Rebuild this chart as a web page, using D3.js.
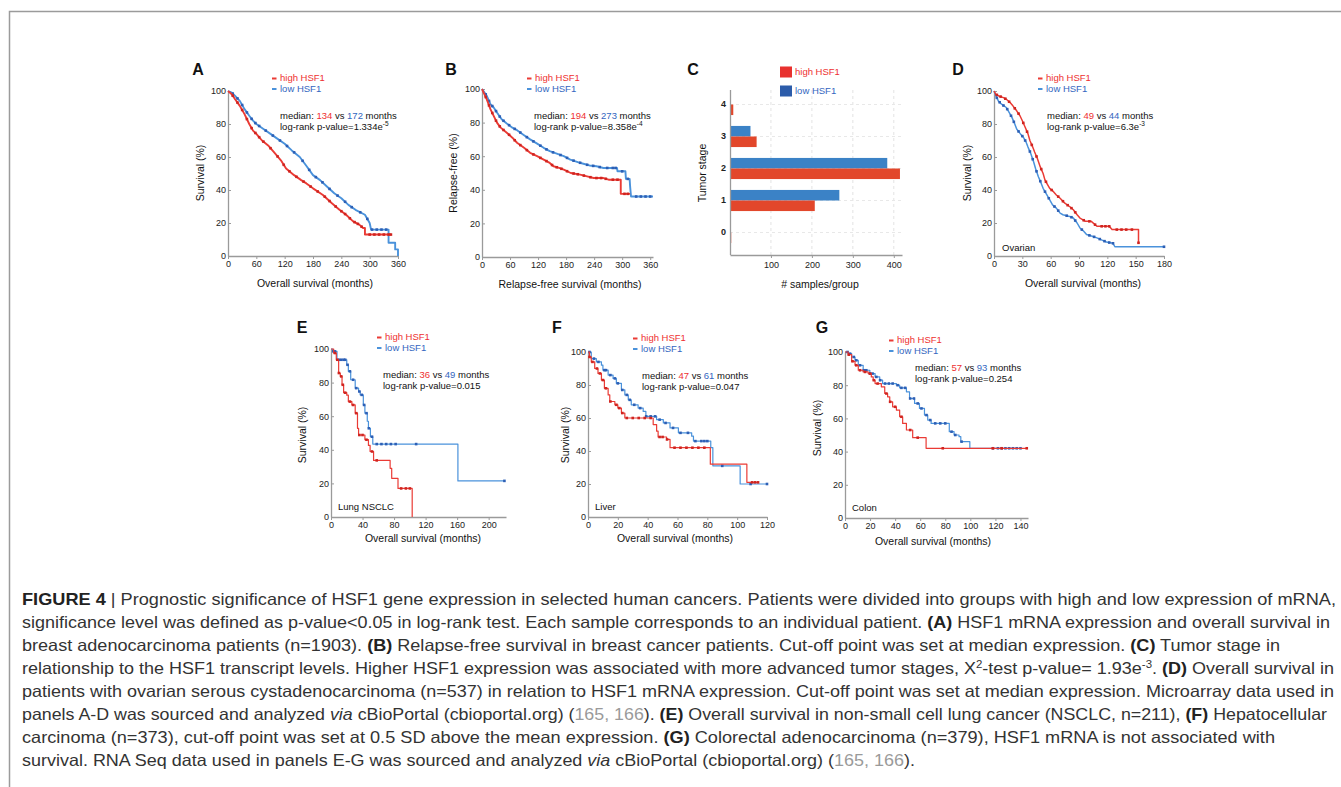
<!DOCTYPE html>
<html>
<head>
<meta charset="utf-8">
<script src="https://cdn.jsdelivr.net/npm/d3@7"></script>
<style>
  body { margin: 0; background: #fff; }
  svg text { font-family: "Liberation Sans", Arial, sans-serif; }
</style>
</head>
<body>
<svg id="fig" width="1341" height="787"></svg>
<script>
// ---- data ----
// A, B, D: curve traced as [months, survival %] points (dense KM curves)
const aHigh = [[0,100],[8,98],[15,95],[25,91],[35,86],[45,80],[53,76],[60,74],[72,70],[85,67],[100,62],[112,58],[123,53],[140,49],[155,46],[166,44],[180,41],[201,37],[220,32],[236,28],[250,25],[265,21],[278,19],[286,17],[290,17],[290,13],[345,13]]
const aLow = [[0,100],[8,99],[15,97],[25,94],[35,89],[45,85],[53,82],[60,80],[75,77],[90,74],[105,71],[120,68],[135,64],[152,60],[165,55],[180,49],[195,46],[210,42],[225,38],[240,35],[255,31],[270,28],[290,25],[300,20],[303,16],[340,16],[340,8],[354,8],[354,4],[360,4],[360,0]]
const aHighCens = [10,20,30,40,50,58,66,75,90,105,118,130,145,160,175,190,205,215,228,240,248,258,268,275,283,300,310,320,330,340,345]
const aLowCens = [10,20,30,40,50,58,66,80,95,110,125,140,158,172,186,200,215,232,248,262,280,295,305,315,325,335]

const bHigh = [[0,100],[5,97],[10,94],[18,88],[25,84],[32,80],[40,77],[53,74],[65,71],[75,68],[90,65],[103,62],[118,60],[132,58],[145,56],[153,54],[165,53],[175,52],[190,50],[210,49],[225,48],[239,47],[260,47],[271,46],[297,46],[297,37.6],[317,37.6]]
const bLow = [[0,100],[5,98],[10,96],[18,91],[25,89],[32,86],[42,82],[53,79.5],[65,77],[75,75.5],[90,72.5],[103,70],[118,67.5],[132,65],[145,63],[160,61.5],[175,60],[189,58],[205,56.5],[217,55.5],[230,54.5],[245,54],[260,53],[289,53],[290,51],[307,51],[308,46.5],[316,46.5],[317,42],[319,36],[366,36]]
const bHighCens = [8,15,22,30,38,46,58,70,82,96,110,125,138,150,160,170,182,196,205,218,232,245,255,265,280,290,305,312]
const bLowCens = [8,15,22,30,38,46,58,70,82,96,110,125,138,152,168,182,196,210,225,238,252,268,280,286,300,312,330,340,350,360]

const stages = ["4","3","2","1","0"]
const highStage = [8, 65, 415, 207, 3]
const lowStage = [1, 50, 384, 267, 1]

const dHigh = [[0,100],[2,98],[5,97],[10,96],[13,95],[17,93],[20,91],[24,88],[27.5,85],[30,82],[33,78],[36,74],[38,70],[41,66],[43,63],[46,59],[49,54],[52,50],[54,46],[57,43],[59,41],[63,39],[66,37],[70,35],[75,32],[80,30],[84,28],[88,25],[91,23],[97,21],[103,21],[109,18],[122,18],[125,16],[153,16],[153,8]]
const dLow = [[0,100],[2,97],[4.6,94],[8,92],[13,90],[16,87],[19,84],[22,80],[24,77],[28,74],[31,72],[34,69],[36,66],[39,62],[42,57],[44,53],[47,48],[50,44],[52,41],[56,37],[59,34],[62,31],[66,29],[70,26],[73,25],[80,24],[84,23],[88,20],[91,17],[95,15],[98,13],[104,12],[109,11],[115,9.5],[119,8.5],[126,7.7],[128,5.6],[180,5.6]]
const dHighCens = [3,7,12,16,22,26,31,35,40,45,50,55,61,68,73,78,82,86,95,101,107,114,118,122,130,135,140,146,153]
const dLowCens = [3,6,10,14,18,21,26,30,33,38,41,45,49,54,58,64,68,77,82,86,93,101,106,112,117,122,126,180]

// E, F, G: step points [month of drop, new survival %]
const eHigh = [[0,100],[3.4,97.6],[6.7,93.6],[9.7,85.7],[11.8,83.7],[14,78.7],[16,74],[20,72.5],[22,68.7],[26.5,66.7],[30.7,61.8],[33.6,52.8],[35,48.8],[43,46],[47.5,42.6],[49.6,39],[54,33.7],[75,29],[77,23],[85,17],[103,0]]
const eLow = [[0,100],[2,98.6],[7.6,93.6],[20,90.6],[22,86.7],[25,81.7],[30.7,76.7],[35,74.7],[37,72.7],[41,66.7],[43,61.8],[46,57],[47.5,52.8],[50,47.8],[53,43.4],[161,21.5],[220,21.5]]
const eHighCens = [5,8,10,13,15,18,24,28,32,36,40,45,52,58,89,95,100]
const eLowCens = [3,5,10,13,16,18,21,24,28,32,36,39,42,45,48,52,58,64,70,76,82,108,220]

const fHigh = [[0,100],[1,97],[2.2,94],[4.5,90],[6.7,87],[9,83],[11,78],[13.5,74],[14.6,70],[18,68],[20,66],[22.4,63],[24.7,60],[43.7,56],[46,52],[47,48.5],[52.7,47],[55,42],[82,32],[106.5,21],[114,21]]
const fLow = [[0,100],[2.2,96],[5.6,94],[9,92],[10,89],[13.5,86],[16.8,84],[19,81],[22.4,77],[24.7,74],[27,71],[29,68],[33.6,66],[37,64],[38.8,61],[46,59],[50.5,57],[55,54],[60.6,51],[69.5,49],[70.7,46],[82.3,42],[83.7,31],[102,20],[120,20]]
const fHighCens = [1,3,6,8,10,12,15,19,21,23,26,30,34,38,42,48,50,53,58,62,66,70,74,78,110,112,114]
const fLowCens = [1,4,7,11,12,15,18,20,23,26,28,31,35,39,42,45,48,52,57,62,67,72,76,78,80,90,109,120]

const gHigh = [[0,100],[2.6,98.4],[5.3,94.4],[8,92],[10.6,89],[14.5,88],[18.5,87],[21,85],[22.5,83],[24,81],[29,79],[31.7,75],[34,73],[35.7,70],[38,67],[41,65],[43.6,61],[46,57],[49,53],[54,48.4],[64.7,42],[145,42]]
const gLow = [[0,100],[2.6,99],[5.3,97],[8,95],[10.6,92],[14.5,89],[19.8,87],[24,85],[27.7,83],[30,81],[41,80],[43.6,78.4],[49,76],[51.5,72],[55.5,69],[59.4,66],[63.4,62],[66,59],[68.7,57],[83.2,52],[87,50],[91,49],[92.4,46],[99.6,42],[140,42]]
const gHighCens = [3,6,9,12,16,20,23,26,33,36,40,45,52,58,78,118,125,145]
const gLowCens = [2,4,7,9,12,15,17,20,22,25,28,32,35,38,42,45,48,52,55,58,61,65,68,72,76,80,85,88,93,118,122,125,128,131,134,137,140]

const survTicks = [0, 20, 40, 60, 80, 100]

// caption text, one array of pieces per line
const caption = [
  [{t:"FIGURE 4", b:1},{t:" | Prognostic significance of HSF1 gene expression in selected human cancers. Patients were divided into groups with high and low expression of mRNA,"}],
  [{t:"significance level was defined as p-value<0.05 in log-rank test. Each sample corresponds to an individual patient. "},{t:"(A)", b:1},{t:" HSF1 mRNA expression and overall survival in"}],
  [{t:"breast adenocarcinoma patients (n=1903). "},{t:"(B)", b:1},{t:" Relapse-free survival in breast cancer patients. Cut-off point was set at median expression. "},{t:"(C)", b:1},{t:" Tumor stage in"}],
  [{t:"relationship to the HSF1 transcript levels. Higher HSF1 expression was associated with more advanced tumor stages, X"},{t:"2", sup:1},{t:"-test p-value= 1.93e"},{t:"-3", sup:1},{t:". "},{t:"(D)", b:1},{t:" Overall survival in"}],
  [{t:"patients with ovarian serous cystadenocarcinoma (n=537) in relation to HSF1 mRNA expression. Cut-off point was set at median expression. Microarray data used in"}],
  [{t:"panels A-D was sourced and analyzed "},{t:"via", i:1},{t:" cBioPortal (cbioportal.org) ("},{t:"165, 166", g:1},{t:"). "},{t:"(E)", b:1},{t:" Overall survival in non-small cell lung cancer (NSCLC, n=211), "},{t:"(F)", b:1},{t:" Hepatocellular"}],
  [{t:"carcinoma (n=373), cut-off point was set at 0.5 SD above the mean expression. "},{t:"(G)", b:1},{t:" Colorectal adenocarcinoma (n=379), HSF1 mRNA is not associated with"}],
  [{t:"survival. RNA Seq data used in panels E-G was sourced and analyzed "},{t:"via", i:1},{t:" cBioPortal (cbioportal.org) ("},{t:"165, 166", g:1},{t:")."}]
]

// ---- styling / layout ----
const RED = "#ea3b35", BLUE = "#4a92db"
const RED_MK = "#d0241f", BLUE_MK = "#2d5fb5"
const RED_TXT = "#ee3030", BLUE_TXT = "#3366c0"

const svg = d3.select("#fig")
svg.append("rect").attr("width", 1341).attr("height", 787).attr("fill", "#fff")
svg.append("path").attr("d", "M9.5,787V11.5H1341")
  .attr("fill", "none").attr("stroke", "#9b9b9b").attr("stroke-width", 1.5)

const kmPanels = [
  {letter:"A", high:aHigh, low:aLow, highC:aHighCens, lowC:aLowCens, step:false, xMax:360, xTicks:[0,60,120,180,240,300,360],
   left:228, right:398, top:91, bottom:256, lw:1.9, yTitle:"Survival (%)", xTitle:"Overall survival (months)",
   med:["134","172"], p:["1.334e","-5"], letterAt:[198,69], legendAt:[272,78], statsAt:[280,116],
   xTitleAt:[315,283], yTitleAt:[200,173]},
  {letter:"B", high:bHigh, low:bLow, highC:bHighCens, lowC:bLowCens, step:false, xMax:366, xTicks:[0,60,120,180,240,300,360],
   left:482, right:653, top:89, bottom:257, lw:1.9, yTitle:"Relapse-free (%)", xTitle:"Relapse-free survival (months)",
   med:["194","273"], p:["8.358e","-4"], letterAt:[451,69], legendAt:[527,78], statsAt:[534,116],
   xTitleAt:[570,284], yTitleAt:[453,173]},
  {letter:"D", high:dHigh, low:dLow, highC:dHighCens, lowC:dLowCens, step:false, xMax:180, xTicks:[0,30,60,90,120,150,180],
   left:994, right:1164, top:91, bottom:256, lw:1.5, yTitle:"Survival (%)", xTitle:"Overall survival (months)",
   med:["49","44"], p:["6.3e","-3"], letterAt:[958,69], legendAt:[1038,78], statsAt:[1047,116],
   xTitleAt:[1083,283], yTitleAt:[967,173], note:"Ovarian", noteAt:[1002,248]},
  {letter:"E", high:eHigh, low:eLow, highC:eHighCens, lowC:eLowCens, step:true, xMax:222, xTicks:[0,40,80,120,160,200],
   left:331, right:506, top:349, bottom:517, lw:1.2, yTitle:"Survival (%)", xTitle:"Overall survival (months)",
   med:["36","49"], p:["0.015",""], letterAt:[302,327], legendAt:[377,337], statsAt:[383,375],
   xTitleAt:[423,538], yTitleAt:[302,435], note:"Lung NSCLC", noteAt:[338,507]},
  {letter:"F", high:fHigh, low:fLow, highC:fHighCens, lowC:fLowCens, step:true, xMax:120, xTicks:[0,20,40,60,80,100,120],
   left:588, right:767, top:352, bottom:517, lw:1.2, yTitle:"Survival (%)", xTitle:"Overall survival (months)",
   med:["47","61"], p:["0.047",""], letterAt:[557,327], legendAt:[633,338], statsAt:[642,376],
   xTitleAt:[675,538], yTitleAt:[565,435], note:"Liver", noteAt:[595,507]},
  {letter:"G", high:gHigh, low:gLow, highC:gHighCens, lowC:gLowCens, step:true, xMax:146, xTicks:[0,20,40,60,80,100,120,140],
   left:845, right:1028, top:352, bottom:518, lw:1.2, yTitle:"Survival (%)", xTitle:"Overall survival (months)",
   med:["57","93"], p:["0.254",""], letterAt:[822,327], legendAt:[889,340], statsAt:[915,368],
   xTitleAt:[933,541], yTitleAt:[817,428], note:"Colon", noteAt:[852,508]}
]

// height of the drawn curve at month t (step or traced polyline)
function curveAt(series, t, step) {
  if (step) {
    let s = series[0][1]
    for (const d of series) if (d[0] <= t) s = d[1]
    return s
  }
  for (let i = series.length - 1; i > 0; i--) {
    const a = series[i - 1], b = series[i]
    if (t >= a[0] && t <= b[0]) {
      if (b[0] === a[0]) return b[1]
      return a[1] + (b[1] - a[1]) * (t - a[0]) / (b[0] - a[0])
    }
  }
  return series[series.length - 1][1]
}

function styleAxis(g) {
  g.select(".domain").attr("stroke", "#9a9a9a").attr("stroke-width", 1.3)
  g.selectAll(".tick line").attr("stroke", "#9a9a9a")
  g.selectAll(".tick text").attr("fill", "#222").style("font-size", "9px")
}

function legend(g, at, fs) {
  const items = [["high HSF1", RED, RED_TXT], ["low HSF1", BLUE, BLUE_TXT]]
  items.forEach((it, i) => {
    const yy = at[1] + i * 10.5
    g.append("line").attr("x1", at[0]).attr("x2", at[0] + 4.5)
      .attr("y1", yy + 0.5).attr("y2", yy + 0.5)
      .attr("stroke", it[1]).attr("stroke-width", 2)
    g.append("text").attr("x", at[0] + 8).attr("y", yy).attr("dy", "0.35em")
      .style("font-size", fs + "px").attr("fill", it[2]).text(it[0])
  })
}

function letter(g, at, s) {
  g.append("text").attr("x", at[0]).attr("y", at[1]).attr("dy", "0.36em")
    .attr("text-anchor", "middle").style("font-size", "16px").style("font-weight", "bold")
    .attr("fill", "#111").text(s)
}

function drawKM(p) {
  const g = svg.append("g")
  const x = d3.scaleLinear().domain([0, p.xMax]).range([p.left, p.right])
  const y = d3.scaleLinear().domain([0, 100]).range([p.bottom, p.top])

  g.append("g").attr("transform", `translate(0,${p.bottom})`)
    .call(d3.axisBottom(x).tickValues(p.xTicks).tickSize(3).tickSizeOuter(0).tickPadding(2))
    .call(styleAxis)
  g.append("g").attr("transform", `translate(${p.left},0)`)
    .call(d3.axisLeft(y).tickValues(survTicks).tickSize(-3).tickSizeOuter(0).tickPadding(2))
    .call(styleAxis)

  const line = d3.line().x(d => x(d[0])).y(d => y(d[1]))
    .curve(p.step ? d3.curveStepAfter : d3.curveLinear)
  const series = [[p.low, p.lowC, BLUE, BLUE_MK], [p.high, p.highC, RED, RED_MK]]
  series.forEach(([data, cens, col, mk]) => {
    g.append("path").attr("d", line(data)).attr("fill", "none")
      .attr("stroke", col).attr("stroke-width", p.lw).attr("stroke-linejoin", "round")
    g.append("g").selectAll("rect").data(cens).join("rect")
      .attr("x", d => x(d) - 1.3).attr("y", d => y(curveAt(data, d, p.step)) - 1.3)
      .attr("width", 2.6).attr("height", 2.6).attr("fill", mk)
  })

  letter(g, p.letterAt, p.letter)
  legend(g, p.legendAt, 9.5)

  const st = g.append("text").attr("x", p.statsAt[0]).attr("y", p.statsAt[1]).attr("dy", "0.35em")
    .style("font-size", "9.5px").attr("fill", "#111")
  st.append("tspan").text("median: ")
  st.append("tspan").attr("fill", RED_TXT).text(p.med[0])
  st.append("tspan").text(" vs ")
  st.append("tspan").attr("fill", BLUE_TXT).text(p.med[1])
  st.append("tspan").text(" months")
  const pt = g.append("text").attr("x", p.statsAt[0]).attr("y", p.statsAt[1] + 10.5).attr("dy", "0.35em")
    .style("font-size", "9.5px").attr("fill", "#111")
  pt.append("tspan").text("log-rank p-value=" + p.p[0])
  if (p.p[1]) pt.append("tspan").attr("dy", -3.5).style("font-size", "6.5px").text(p.p[1])

  g.append("text").attr("x", p.xTitleAt[0]).attr("y", p.xTitleAt[1]).attr("dy", "0.35em")
    .attr("text-anchor", "middle").style("font-size", "10.5px").attr("fill", "#111").text(p.xTitle)
  g.append("text").attr("transform", `translate(${p.yTitleAt[0]},${p.yTitleAt[1]}) rotate(-90)`)
    .attr("dy", "0.35em").attr("text-anchor", "middle").style("font-size", "10.5px")
    .attr("fill", "#111").text(p.yTitle)
  if (p.note) {
    g.append("text").attr("x", p.noteAt[0]).attr("y", p.noteAt[1]).attr("dy", "0.35em")
      .style("font-size", "9.5px").attr("fill", "#111").text(p.note)
  }
}

kmPanels.forEach(drawKM)

// ---- panel C: tumour stage bars ----
function drawStages() {
  const g = svg.append("g")
  const x = d3.scaleLinear().domain([0, 420]).range([730, 902])
  const yb = d3.scaleBand().domain(stages).range([88.5, 248.5]).paddingInner(0.34).paddingOuter(0.17)
  const ys = d3.scaleBand().domain(["low", "high"]).range([0, yb.bandwidth()])

  // dashed grid
  g.append("g").selectAll("line").data([100, 200, 300, 400]).join("line")
    .attr("x1", d => x(d)).attr("x2", d => x(d)).attr("y1", 90).attr("y2", 255)
    .attr("stroke", "#e3e3e3").attr("stroke-dasharray", "3,3")
  g.append("g").selectAll("line").data(stages).join("line")
    .attr("x1", 730).attr("x2", 902)
    .attr("y1", d => yb(d) + yb.bandwidth() / 2).attr("y2", d => yb(d) + yb.bandwidth() / 2)
    .attr("stroke", "#e8e8e8").attr("stroke-dasharray", "3,3")

  const rows = stages.map((s, i) => ({ s, low: lowStage[i], high: highStage[i] }))
  g.append("g").selectAll("rect").data(rows).join("rect")
    .attr("x", x(0)).attr("y", d => yb(d.s) + ys("low"))
    .attr("width", d => x(d.low) - x(0)).attr("height", ys.bandwidth())
    .attr("fill", "#3b82c6")
  g.append("g").selectAll("rect").data(rows).join("rect")
    .attr("x", x(0)).attr("y", d => yb(d.s) + ys("high"))
    .attr("width", d => x(d.high) - x(0)).attr("height", ys.bandwidth())
    .attr("fill", "#e2472b")

  g.append("g").attr("transform", "translate(0,255)")
    .call(d3.axisBottom(x).tickValues([100, 200, 300, 400]).tickSize(3).tickSizeOuter(0).tickPadding(4))
    .call(styleAxis)
  g.append("g").attr("transform", "translate(730,0)")
    .call(d3.axisLeft(yb).tickSize(0).tickPadding(4))
    .call(styleAxis)
    .call(a => a.select(".domain").attr("d", "M0.5,90V255"))
    .call(a => a.selectAll(".tick text").style("font-size", "9px").style("font-weight", "bold")
      .style("font-family", "'Liberation Sans Narrow','Liberation Sans',sans-serif"))

  letter(g, [693, 69], "C")
  const leg = [["high HSF1", "#e8312f", RED_TXT], ["low HSF1", "#2c5caa", BLUE_TXT]]
  leg.forEach((it, i) => {
    const yy = 72 + i * 19
    g.append("rect").attr("x", 780).attr("y", yy - 5.5).attr("width", 12).attr("height", 11).attr("fill", it[1])
    g.append("text").attr("x", 795).attr("y", yy).attr("dy", "0.35em")
      .style("font-size", "9.5px").attr("fill", it[2]).text(it[0])
  })
  g.append("text").attr("x", 820).attr("y", 284).attr("dy", "0.35em").attr("text-anchor", "middle")
    .style("font-size", "10.5px").attr("fill", "#111").text("# samples/group")
  g.append("text").attr("transform", "translate(702,173) rotate(-90)").attr("dy", "0.35em")
    .attr("text-anchor", "middle").style("font-size", "10.5px").attr("fill", "#111").text("Tumor stage")
}
drawStages()

// ---- caption ----
const capEnds = [1336, 1330, 1280, 1334, 1334, 1327, 1275, 915]
caption.forEach((pieces, i) => {
  const t = svg.append("text").attr("x", 22).attr("y", 599 + i * 23).attr("dy", "0.35em")
    .style("font-size", "16.5px").attr("fill", "#333")
    .attr("textLength", capEnds[i] - 22).attr("lengthAdjust", "spacingAndGlyphs")
  let up = false
  pieces.forEach(pc => {
    const s = t.append("tspan").text(pc.t)
    if (pc.b) s.style("font-weight", "bold").attr("fill", "#222")
    if (pc.i) s.style("font-style", "italic")
    if (pc.g) s.attr("fill", "#9a9a9a")
    if (pc.sup) { s.attr("dy", -6).style("font-size", "10.5px"); up = true }
    else if (up) { s.attr("dy", 6); up = false }
  })
})
</script>
</body>
</html>
